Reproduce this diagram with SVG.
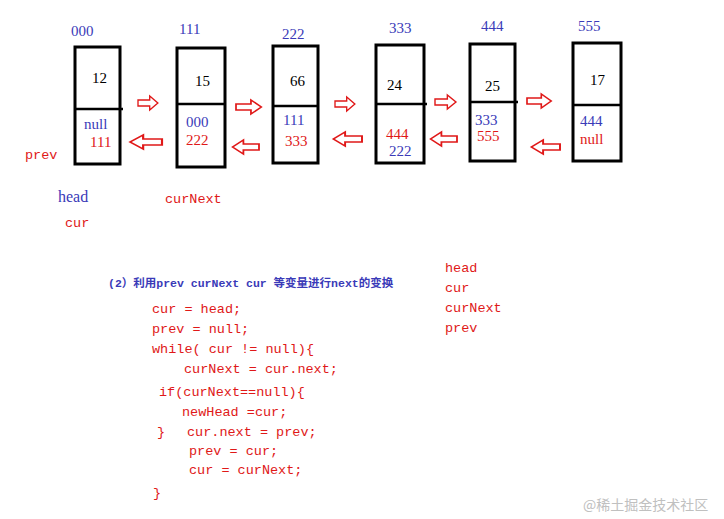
<svg xmlns="http://www.w3.org/2000/svg" xmlns:xlink="http://www.w3.org/1999/xlink" width="724" height="519" viewBox="0 0 724 519">
<style>
.box{fill:#fff;stroke:#000;stroke-width:3}
.dv{stroke:#000;stroke-width:2.5}
.t{font-family:"Liberation Serif",serif;font-size:15px}
.b{fill:#3a3ab8}.r{fill:#e01818}.k{fill:#000}
.m{font-family:"Liberation Mono",monospace;font-size:13.5px}
.ar{fill:#fff;stroke:#e01818;stroke-width:1.5}
</style>
<defs>
<polygon id="ra" points="0,-3 13,-3 13,-7 22,0 13,7 13,3 0,3"/>
</defs>
<rect width="724" height="519" fill="#fff"/>
<g id="n0"><rect class="box" x="75" y="47" width="45" height="117"/><line class="dv" x1="75" y1="109" x2="123" y2="109"/>
<text class="t b" x="71" y="36">000</text><text class="t k" x="92" y="83">12</text><text class="t b" x="84" y="129">null</text><text class="t r" x="90" y="147">111</text></g>
<g id="n1"><rect class="box" x="177" y="48" width="48" height="119"/><line class="dv" x1="177" y1="104" x2="225" y2="104"/>
<text class="t b" x="179" y="34">111</text><text class="t k" x="195" y="86">15</text><text class="t b" x="186" y="127">000</text><text class="t r" x="186" y="145">222</text></g>
<g id="n2"><rect class="box" x="273" y="46" width="45" height="117"/><line class="dv" x1="273" y1="106" x2="318" y2="106"/>
<text class="t b" x="282" y="39">222</text><text class="t k" x="290" y="86">66</text><text class="t b" x="283" y="125">111</text><text class="t r" x="285" y="146">333</text></g>
<g id="n3"><rect class="box" x="376" y="45" width="48" height="118"/><line class="dv" x1="376" y1="104" x2="427" y2="104"/>
<text class="t b" x="389" y="33">333</text><text class="t k" x="387" y="90">24</text><text class="t r" x="386" y="139">444</text><text class="t b" x="389" y="156">222</text></g>
<g id="n4"><rect class="box" x="470" y="44" width="45" height="117"/><line class="dv" x1="470" y1="102" x2="518" y2="102"/>
<text class="t b" x="481" y="31">444</text><text class="t k" x="485" y="91">25</text><text class="t b" x="475" y="125">333</text><text class="t r" x="477" y="141">555</text></g>
<g id="n5"><rect class="box" x="573" y="43" width="48" height="118"/><line class="dv" x1="573" y1="105" x2="621" y2="105"/>
<text class="t b" x="578" y="31">555</text><text class="t k" x="590" y="85">17</text><text class="t b" x="580" y="126">444</text><text class="t r" x="580" y="144">null</text></g>
<g id="connectors">
<use href="#ra" class="ar" transform="translate(138,103) scale(0.9,1)"/>
<use href="#ra" class="ar" transform="translate(236,107) scale(1.15,1)"/>
<use href="#ra" class="ar" transform="translate(335,104) scale(0.9,1)"/>
<use href="#ra" class="ar" transform="translate(435,102) scale(0.95,1)"/>
<use href="#ra" class="ar" transform="translate(527,101) scale(1.1,1)"/>
<use href="#ra" class="ar" transform="translate(162,142) scale(-1.45,1)"/>
<use href="#ra" class="ar" transform="translate(259,147) scale(-1.2,1)"/>
<use href="#ra" class="ar" transform="translate(362,139) scale(-1.3,1)"/>
<use href="#ra" class="ar" transform="translate(457,139) scale(-1.2,1)"/>
<use href="#ra" class="ar" transform="translate(560,147) scale(-1.3,1)"/>
</g>
<g id="labels">
<text class="m r" x="25" y="159">prev</text>
<text class="t b" x="58" y="202" style="font-size:16px">head</text>
<text class="m r" x="65" y="227">cur</text>
<text class="m r" x="165" y="203">curNext</text>
<text x="108" y="287" style="font-family:'Liberation Mono','Noto Sans CJK SC',monospace;font-size:11.5px;font-weight:bold;fill:#3a3ab8">(2）利用prev curNext cur 等变量进行next的变换</text>
<text class="m r" x="445" y="272">head</text>
<text class="m r" x="445" y="292">cur</text>
<text class="m r" x="445" y="312">curNext</text>
<text class="m r" x="445" y="332">prev</text>
</g>
<g id="code" class="m r">
<text x="152" y="313">cur = head;</text>
<text x="152" y="333">prev = null;</text>
<text x="152" y="353">while( cur != null){</text>
<text x="184" y="373">curNext = cur.next;</text>
<text x="159" y="396">if(curNext==null){</text>
<text x="182" y="416">newHead =cur;</text>
<text x="157" y="436">}</text>
<text x="187" y="436">cur.next = prev;</text>
<text x="189" y="455">prev = cur;</text>
<text x="189" y="474">cur = curNext;</text>
<text x="153" y="497">}</text>
</g>
<text x="583" y="510" style="font-family:'Noto Sans CJK SC',sans-serif;font-size:14px;fill:#c0c0c0">@稀土掘金技术社区</text>
</svg>
